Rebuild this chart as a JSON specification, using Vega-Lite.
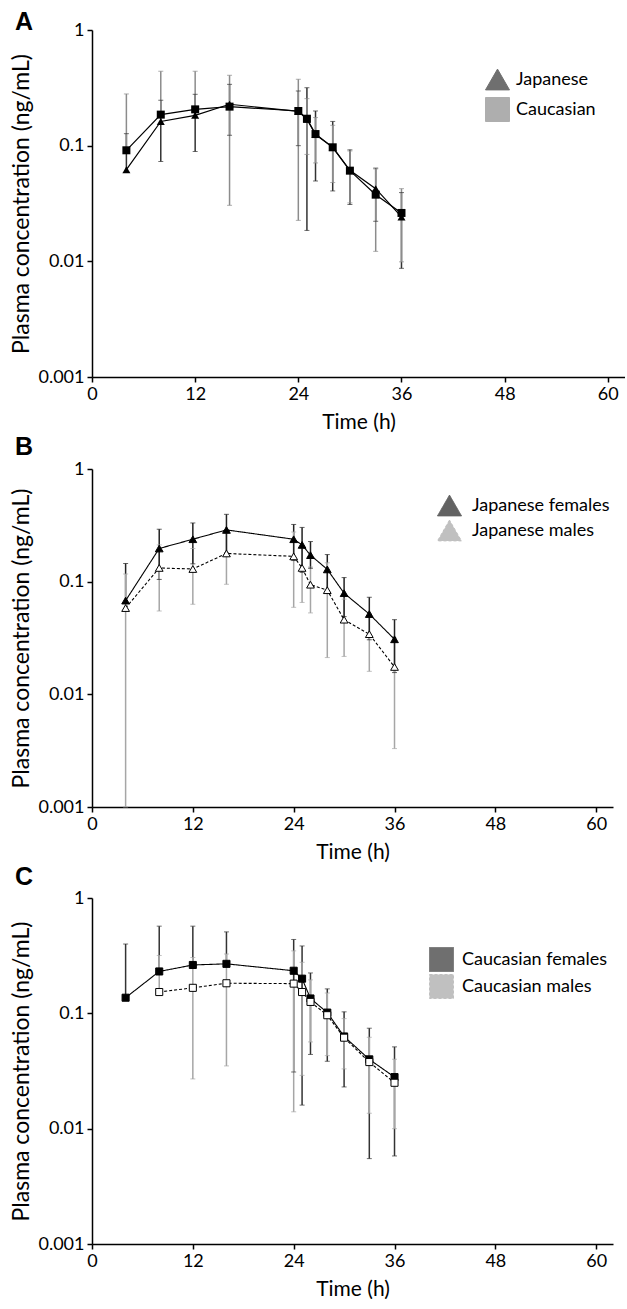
{
  "$schema": "https://vega.github.io/schema/vega-lite/v6.json",
  "background": "white",
  "padding": {"left": 10, "top": 10, "right": 0, "bottom": 0},
  "autosize": {"type": "pad"},
  "datasets": {
    "A": [
      {"t": 4, "group": "Japanese", "mean": 0.062, "hi": 0.127, "lo": null},
      {"t": 8, "group": "Japanese", "mean": 0.162, "hi": 0.247, "lo": 0.073},
      {"t": 12, "group": "Japanese", "mean": 0.183, "hi": 0.278, "lo": 0.089},
      {"t": 16, "group": "Japanese", "mean": 0.228, "hi": 0.339, "lo": 0.123},
      {"t": 24, "group": "Japanese", "mean": 0.198, "hi": 0.297, "lo": 0.1},
      {"t": 25, "group": "Japanese", "mean": 0.169, "hi": 0.317, "lo": 0.0185},
      {"t": 26, "group": "Japanese", "mean": 0.1245, "hi": 0.1995, "lo": 0.0495},
      {"t": 28, "group": "Japanese", "mean": 0.0968, "hi": 0.162, "lo": 0.0406},
      {"t": 30, "group": "Japanese", "mean": 0.0612, "hi": 0.092, "lo": 0.031},
      {"t": 33, "group": "Japanese", "mean": 0.0425, "hi": 0.064, "lo": 0.0222},
      {"t": 36, "group": "Japanese", "mean": 0.0242, "hi": 0.0393, "lo": 0.0087},
      {"t": 4, "group": "Caucasian", "mean": 0.0912, "hi": 0.28, "lo": null},
      {"t": 8, "group": "Caucasian", "mean": 0.1855, "hi": 0.44, "lo": null},
      {"t": 12, "group": "Caucasian", "mean": 0.206, "hi": 0.44, "lo": null},
      {"t": 16, "group": "Caucasian", "mean": 0.2175, "hi": 0.406, "lo": 0.0305},
      {"t": 24, "group": "Caucasian", "mean": 0.1995, "hi": 0.375, "lo": 0.0226},
      {"t": 25, "group": "Caucasian", "mean": 0.171, "hi": 0.255, "lo": 0.084},
      {"t": 26, "group": "Caucasian", "mean": 0.126, "hi": 0.175, "lo": 0.0709},
      {"t": 28, "group": "Caucasian", "mean": 0.0968, "hi": 0.15, "lo": 0.048},
      {"t": 30, "group": "Caucasian", "mean": 0.0608, "hi": 0.09, "lo": 0.032},
      {"t": 33, "group": "Caucasian", "mean": 0.0377, "hi": 0.063, "lo": 0.0122},
      {"t": 36, "group": "Caucasian", "mean": 0.0262, "hi": 0.0425, "lo": 0.0099}
    ],
    "B": [
      {"t": 4, "group": "Japanese females", "mean": 0.0679, "hi": 0.145, "lo": null},
      {"t": 8, "group": "Japanese females", "mean": 0.197, "hi": 0.292, "lo": 0.1047},
      {"t": 12, "group": "Japanese females", "mean": 0.238, "hi": 0.332, "lo": 0.144},
      {"t": 16, "group": "Japanese females", "mean": 0.288, "hi": 0.396, "lo": 0.18},
      {"t": 24, "group": "Japanese females", "mean": 0.238, "hi": 0.322, "lo": 0.154},
      {"t": 25, "group": "Japanese females", "mean": 0.212, "hi": 0.303, "lo": 0.121},
      {"t": 26, "group": "Japanese females", "mean": 0.172, "hi": 0.227, "lo": 0.1315},
      {"t": 28, "group": "Japanese females", "mean": 0.1285, "hi": 0.174, "lo": 0.083},
      {"t": 30, "group": "Japanese females", "mean": 0.079, "hi": 0.1087, "lo": 0.049},
      {"t": 33, "group": "Japanese females", "mean": 0.0516, "hi": 0.0727, "lo": 0.0305},
      {"t": 36, "group": "Japanese females", "mean": 0.0308, "hi": 0.046, "lo": 0.0156},
      {"t": 4, "group": "Japanese males", "mean": 0.0583, "hi": 0.117, "lo": 0.001},
      {"t": 8, "group": "Japanese males", "mean": 0.1324, "hi": 0.212, "lo": 0.0549},
      {"t": 12, "group": "Japanese males", "mean": 0.1295, "hi": 0.197, "lo": 0.063},
      {"t": 16, "group": "Japanese males", "mean": 0.178, "hi": 0.2705, "lo": 0.0948},
      {"t": 24, "group": "Japanese males", "mean": 0.1677, "hi": 0.276, "lo": 0.0592},
      {"t": 25, "group": "Japanese males", "mean": 0.1324, "hi": 0.199, "lo": 0.0654},
      {"t": 26, "group": "Japanese males", "mean": 0.094, "hi": 0.135, "lo": 0.0528},
      {"t": 28, "group": "Japanese males", "mean": 0.084, "hi": 0.147, "lo": 0.0212},
      {"t": 30, "group": "Japanese males", "mean": 0.046, "hi": 0.07, "lo": 0.0217},
      {"t": 33, "group": "Japanese males", "mean": 0.0342, "hi": 0.052, "lo": 0.016},
      {"t": 36, "group": "Japanese males", "mean": 0.0175, "hi": 0.0317, "lo": 0.0033}
    ],
    "C": [
      {"t": 4, "group": "Caucasian females", "mean": 0.1366, "hi": 0.399, "lo": null},
      {"t": 8, "group": "Caucasian females", "mean": 0.2307, "hi": 0.57, "lo": null},
      {"t": 12, "group": "Caucasian females", "mean": 0.2626, "hi": 0.57, "lo": null},
      {"t": 16, "group": "Caucasian females", "mean": 0.2686, "hi": 0.5085, "lo": null},
      {"t": 24, "group": "Caucasian females", "mean": 0.234, "hi": 0.437, "lo": 0.031},
      {"t": 25, "group": "Caucasian females", "mean": 0.1998, "hi": 0.384, "lo": 0.016},
      {"t": 26, "group": "Caucasian females", "mean": 0.1345, "hi": 0.224, "lo": 0.044},
      {"t": 28, "group": "Caucasian females", "mean": 0.1015, "hi": 0.163, "lo": 0.0384},
      {"t": 30, "group": "Caucasian females", "mean": 0.063, "hi": 0.103, "lo": 0.023},
      {"t": 33, "group": "Caucasian females", "mean": 0.0399, "hi": 0.0743, "lo": 0.0055},
      {"t": 36, "group": "Caucasian females", "mean": 0.028, "hi": 0.0512, "lo": 0.0058},
      {"t": 8, "group": "Caucasian males", "mean": 0.153, "hi": 0.3175, "lo": null},
      {"t": 12, "group": "Caucasian males", "mean": 0.1664, "hi": 0.305, "lo": 0.027},
      {"t": 16, "group": "Caucasian males", "mean": 0.1823, "hi": 0.327, "lo": 0.035},
      {"t": 24, "group": "Caucasian males", "mean": 0.181, "hi": 0.348, "lo": 0.014},
      {"t": 25, "group": "Caucasian males", "mean": 0.153, "hi": 0.277, "lo": 0.029},
      {"t": 26, "group": "Caucasian males", "mean": 0.1256, "hi": 0.195, "lo": 0.0565},
      {"t": 28, "group": "Caucasian males", "mean": 0.0963, "hi": 0.15, "lo": 0.043},
      {"t": 30, "group": "Caucasian males", "mean": 0.0615, "hi": 0.09, "lo": 0.033},
      {"t": 33, "group": "Caucasian males", "mean": 0.0378, "hi": 0.062, "lo": 0.0136},
      {"t": 36, "group": "Caucasian males", "mean": 0.025, "hi": 0.04, "lo": 0.01}
    ]
  },
  "config": {
    "view": {"stroke": null},
    "font": "Lato",
    "axis": {
      "grid": false,
      "domainColor": "black",
      "domainWidth": 1.5,
      "tickColor": "black",
      "tickWidth": 1.5,
      "tickSize": 5,
      "labelColor": "black",
      "labelFont": "Lato",
      "labelFontSize": 18,
      "labelFlush": false,
      "labelOverlap": false,
      "titleColor": "black",
      "titleFont": "Lato",
      "titleFontWeight": "normal"
    },
    "axisX": {"labelPadding": 3, "titlePadding": 8, "titleFontSize": 21},
    "axisY": {"labelPadding": 3, "titlePadding": 4, "titleFontSize": 23},
    "legend": {
      "labelFont": "Lato",
      "labelFontSize": 18,
      "labelColor": "black",
      "symbolSize": 576,
      "symbolStrokeWidth": 1,
      "symbolStrokeColor": "black",
      "padding": 0
    }
  },
  "resolve": {
    "scale": {"color": "independent", "shape": "independent", "fill": "independent", "strokeDash": "independent"},
    "legend": {"color": "independent", "shape": "independent", "fill": "independent", "strokeDash": "independent"}
  },
  "spacing": 3,
  "vconcat": [
    {
      "width": 533,
      "height": 347,
      "title": {"text": "A", "anchor": "start", "frame": "bounds", "fontSize": 25, "fontWeight": "bold", "font": "Liberation Sans", "color": "black", "baseline": "alphabetic", "offset": -34, "dx": 4},
      "data": {"name": "A"},
      "layer": [
        {
          "mark": {"type": "rule", "strokeWidth": 1.5},
          "encoding": {
            "x": {"field": "t", "type": "quantitative", "scale": {"domain": [0, 62], "nice": false}, "axis": {"values": [0, 12, 24, 36, 48, 60], "title": "Time (h)"}},
            "y": {"field": "mean", "type": "quantitative", "scale": {"type": "log", "domain": [0.001, 1], "nice": false}, "axis": {"values": [0.001, 0.01, 0.1, 1], "format": "~g", "title": "Plasma concentration (ng/mL)"}},
            "y2": {"field": "hi"},
            "color": {"field": "group", "type": "nominal", "scale": {"domain": ["Japanese", "Caucasian"], "range": ["#333333", "#8c8c8c"]}}
          }
        },
        {
          "mark": {"type": "rule", "strokeWidth": 1.5},
          "encoding": {
            "x": {"field": "t", "type": "quantitative"},
            "y": {"field": "lo", "type": "quantitative"},
            "y2": {"field": "mean"},
            "color": {"field": "group", "type": "nominal"}
          }
        },
        {
          "mark": {"type": "tick", "orient": "horizontal", "size": 5, "thickness": 1},
          "encoding": {
            "x": {"field": "t", "type": "quantitative"},
            "y": {"field": "hi", "type": "quantitative"},
            "color": {"field": "group", "type": "nominal"}
          }
        },
        {
          "mark": {"type": "tick", "orient": "horizontal", "size": 5, "thickness": 1},
          "encoding": {
            "x": {"field": "t", "type": "quantitative"},
            "y": {"field": "lo", "type": "quantitative"},
            "color": {"field": "group", "type": "nominal"}
          }
        },
        {
          "mark": {"type": "line", "color": "black", "strokeWidth": 1.2},
          "encoding": {
            "x": {"field": "t", "type": "quantitative"},
            "y": {"field": "mean", "type": "quantitative"},
            "detail": {"field": "group", "type": "nominal"}
          }
        },
        {
          "mark": {"type": "point", "filled": true, "color": "black", "opacity": 1, "size": 64},
          "encoding": {
            "x": {"field": "t", "type": "quantitative"},
            "y": {"field": "mean", "type": "quantitative"},
            "shape": {
              "field": "group", "type": "nominal",
              "scale": {"domain": ["Japanese", "Caucasian"], "range": ["triangle-up", "square"]},
              "legend": {
                "orient": "none", "title": null,
                "legendX": 393, "legendY": 37, "labelOffset": 6, "rowPadding": 3,
                "encode": {"symbols": {
                  "shape": {"value": {"expr": "datum.value === 'Japanese' ? 'M-1.04,0H1.04M0,-0.4L0.4,0.3H-0.4Z' : 'M-1.04,0H1.04M-0.3,-0.3H0.3V0.3H-0.3Z'"}},
                  "fill": {"value": "black"},
                  "stroke": {"value": "black"},
                  "strokeDash": {"value": [1, 0]},
                  "opacity": {"value": 1}
                }}
              }
            }
          }
        }
      ]
    },
    {
      "width": 521,
      "height": 338,
      "title": {"text": "B", "anchor": "start", "frame": "bounds", "fontSize": 25, "fontWeight": "bold", "font": "Liberation Sans", "color": "black", "baseline": "alphabetic", "offset": -20, "dx": 4},
      "data": {"name": "B"},
      "layer": [
        {
          "mark": {"type": "rule", "strokeWidth": 1.5},
          "encoding": {
            "x": {"field": "t", "type": "quantitative", "scale": {"domain": [0, 62], "nice": false}, "axis": {"values": [0, 12, 24, 36, 48, 60], "title": "Time (h)"}},
            "y": {"field": "mean", "type": "quantitative", "scale": {"type": "log", "domain": [0.001, 1], "nice": false}, "axis": {"values": [0.001, 0.01, 0.1, 1], "format": "~g", "title": "Plasma concentration (ng/mL)"}},
            "y2": {"field": "hi"},
            "color": {"field": "group", "type": "nominal", "scale": {"domain": ["Japanese females", "Japanese males"], "range": ["#222222", "#a6a6a6"]}}
          }
        },
        {
          "mark": {"type": "rule", "strokeWidth": 1.5},
          "encoding": {
            "x": {"field": "t", "type": "quantitative"},
            "y": {"field": "lo", "type": "quantitative"},
            "y2": {"field": "mean"},
            "color": {"field": "group", "type": "nominal"}
          }
        },
        {
          "mark": {"type": "tick", "orient": "horizontal", "size": 5, "thickness": 1},
          "encoding": {
            "x": {"field": "t", "type": "quantitative"},
            "y": {"field": "hi", "type": "quantitative"},
            "color": {"field": "group", "type": "nominal"}
          }
        },
        {
          "mark": {"type": "tick", "orient": "horizontal", "size": 5, "thickness": 1},
          "encoding": {
            "x": {"field": "t", "type": "quantitative"},
            "y": {"field": "lo", "type": "quantitative"},
            "color": {"field": "group", "type": "nominal"}
          }
        },
        {
          "mark": {"type": "line", "color": "black", "strokeWidth": 1.1},
          "encoding": {
            "x": {"field": "t", "type": "quantitative"},
            "y": {"field": "mean", "type": "quantitative"},
            "strokeDash": {"field": "group", "type": "nominal", "scale": {"domain": ["Japanese females", "Japanese males"], "range": [[1, 0], [3, 2]]}}
          }
        },
        {
          "mark": {"type": "point", "stroke": "black", "strokeWidth": 1, "opacity": 1, "size": 60},
          "encoding": {
            "x": {"field": "t", "type": "quantitative"},
            "y": {"field": "mean", "type": "quantitative"},
            "fill": {"field": "group", "type": "nominal", "scale": {"domain": ["Japanese females", "Japanese males"], "range": ["black", "white"]}},
            "shape": {
              "field": "group", "type": "nominal",
              "scale": {"domain": ["Japanese females", "Japanese males"], "range": ["triangle-up", "triangle-up"]},
              "legend": {
                "orient": "none", "title": null,
                "legendX": 345, "legendY": 24, "labelOffset": 10, "rowPadding": 0,
                "encode": {"symbols": {
                  "shape": {"value": {"expr": "datum.value === 'Japanese females' ? 'M-1.67,0H-0.3M0.3,0H1.67M0,-0.4L0.38,0.28H-0.38Z' : 'M-1.67,0H-1.25M-0.95,0H-0.5M0.5,0H0.95M1.25,0H1.67M0,-0.4L0.38,0.28H-0.38Z'"}},
                  "fill": {"value": {"expr": "datum.value === 'Japanese females' ? 'black' : 'white'"}},
                  "stroke": {"value": "black"},
                  "strokeDash": {"value": [1, 0]},
                  "opacity": {"value": 1}
                }}
              }
            }
          }
        }
      ]
    },
    {
      "width": 521,
      "height": 346,
      "title": {"text": "C", "anchor": "start", "frame": "bounds", "fontSize": 25, "fontWeight": "bold", "font": "Liberation Sans", "color": "black", "baseline": "alphabetic", "offset": -21, "dx": 4},
      "data": {"name": "C"},
      "layer": [
        {
          "mark": {"type": "rule", "strokeWidth": 1.5},
          "encoding": {
            "x": {"field": "t", "type": "quantitative", "scale": {"domain": [0, 62], "nice": false}, "axis": {"values": [0, 12, 24, 36, 48, 60], "title": "Time (h)"}},
            "y": {"field": "mean", "type": "quantitative", "scale": {"type": "log", "domain": [0.001, 1], "nice": false}, "axis": {"values": [0.001, 0.01, 0.1, 1], "format": "~g", "title": "Plasma concentration (ng/mL)"}},
            "y2": {"field": "hi"},
            "color": {"field": "group", "type": "nominal", "scale": {"domain": ["Caucasian females", "Caucasian males"], "range": ["#333333", "#a6a6a6"]}}
          }
        },
        {
          "mark": {"type": "rule", "strokeWidth": 1.5},
          "encoding": {
            "x": {"field": "t", "type": "quantitative"},
            "y": {"field": "lo", "type": "quantitative"},
            "y2": {"field": "mean"},
            "color": {"field": "group", "type": "nominal"}
          }
        },
        {
          "mark": {"type": "tick", "orient": "horizontal", "size": 5, "thickness": 1},
          "encoding": {
            "x": {"field": "t", "type": "quantitative"},
            "y": {"field": "hi", "type": "quantitative"},
            "color": {"field": "group", "type": "nominal"}
          }
        },
        {
          "mark": {"type": "tick", "orient": "horizontal", "size": 5, "thickness": 1},
          "encoding": {
            "x": {"field": "t", "type": "quantitative"},
            "y": {"field": "lo", "type": "quantitative"},
            "color": {"field": "group", "type": "nominal"}
          }
        },
        {
          "mark": {"type": "line", "color": "black", "strokeWidth": 1.1},
          "encoding": {
            "x": {"field": "t", "type": "quantitative"},
            "y": {"field": "mean", "type": "quantitative"},
            "strokeDash": {"field": "group", "type": "nominal", "scale": {"domain": ["Caucasian females", "Caucasian males"], "range": [[1, 0], [3, 2]]}}
          }
        },
        {
          "mark": {"type": "point", "stroke": "black", "strokeWidth": 1, "opacity": 1, "size": 50},
          "encoding": {
            "x": {"field": "t", "type": "quantitative"},
            "y": {"field": "mean", "type": "quantitative"},
            "fill": {"field": "group", "type": "nominal", "scale": {"domain": ["Caucasian females", "Caucasian males"], "range": ["black", "white"]}},
            "shape": {
              "field": "group", "type": "nominal",
              "scale": {"domain": ["Caucasian females", "Caucasian males"], "range": ["square", "square"]},
              "legend": {
                "orient": "none", "title": null,
                "legendX": 337, "legendY": 49, "labelOffset": 8, "rowPadding": -4,
                "encode": {"symbols": {
                  "shape": {"value": {"expr": "datum.value === 'Caucasian females' ? 'M-1.4,0H-0.3M0.3,0H1.4M-0.3,-0.3H0.3V0.3H-0.3Z' : 'M-1.4,0H-1.05M-0.8,0H-0.45M0.45,0H0.8M1.05,0H1.4M-0.3,-0.3H0.3V0.3H-0.3Z'"}},
                  "fill": {"value": {"expr": "datum.value === 'Caucasian females' ? 'black' : 'white'"}},
                  "stroke": {"value": "black"},
                  "strokeDash": {"value": [1, 0]},
                  "opacity": {"value": 1}
                }}
              }
            }
          }
        }
      ]
    }
  ]
}
